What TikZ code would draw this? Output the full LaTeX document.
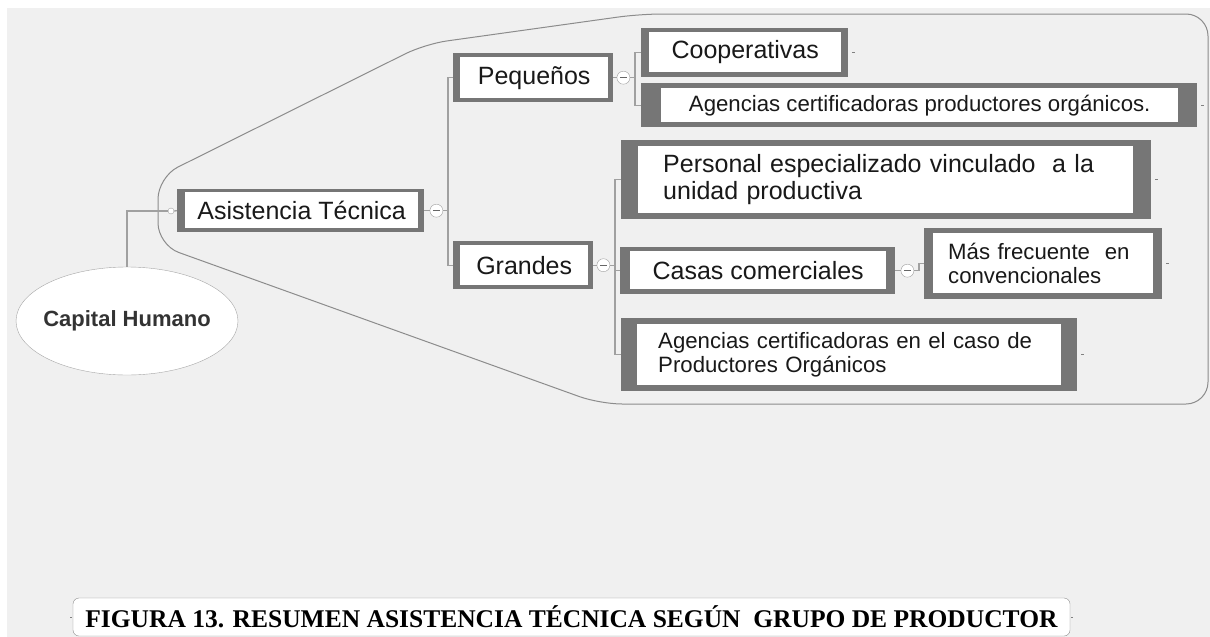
\documentclass[tikz,border=0pt]{standalone}
\usepackage{fontspec}
\setmainfont{Liberation Sans}
\newfontfamily\figfont{Liberation Serif}
\usepackage{tikz}
\usetikzlibrary{calc, shapes.geometric}
\definecolor{framegray}{RGB}{118,118,118}
\definecolor{linkgray}{RGB}{160,160,160}
\definecolor{bordergray}{RGB}{140,140,140}
\definecolor{paper}{RGB}{240,240,240}

\begin{document}
\begin{tikzpicture}[x=1pt, y=-1pt,
    frame/.style={fill=framegray, inner sep=0pt, anchor=north west},
    face/.style={fill=white, inner sep=0pt, anchor=north west, text=black!90},
    bigtext/.style={font=\fontsize{25}{27.5}\selectfont},
    smalltext/.style={font=\fontsize{22.2}{24}\selectfont},
    fold/.style={circle, draw=linkgray, fill=white, minimum size=13pt, inner sep=0pt,
        path picture={\draw[black!60, line width=1pt]
            ([xshift=-3.5pt]path picture bounding box.center) -- ([xshift=3.5pt]path picture bounding box.center);}},
    link/.style={draw=linkgray, line width=1.3pt},
    tick/.style={draw=black!50, line width=0.8pt}
]
\useasboundingbox (0,0) rectangle (1210,637);
\fill[white] (0,0) rectangle (1210,637);
\fill[paper] (7,8) rectangle (1210,637);

% Boundary round the branch
\draw[bordergray, line width=1pt, rounded corners=22]
    (900,14) -- (1208,14) -- (1208,404) -- (600,404) -- (158,245)
    -- (158,177) -- (425,44) -- (640,14) -- cycle;

% Central topic
\node[ellipse, draw=black!35, fill=white, inner sep=0pt, minimum width=222, minimum height=108,
      font=\bfseries\fontsize{22}{24}\selectfont, text=black!80] (cap) at (127,321) {\makebox[0pt]{Capital Humano}};
\node[circle, draw=linkgray, fill=white, minimum size=6pt, inner sep=0pt] (dot) at (171,211) {};

% Asistencia Tecnica
\node[frame, minimum width=247, minimum height=43] (asis) at (177,189) {};
\node[face, bigtext, minimum width=233, minimum height=36] (asis-t) at ($(asis.north west)+(8,3)$) {Asistencia Técnica};

% Pequenos / Grandes
\node[frame, minimum width=160, minimum height=49] (peq) at (453,53) {};
\node[face, bigtext, minimum width=148, minimum height=41] (peq-t) at ($(peq.north west)+(7,4)$) {Pequeños};

\node[frame, minimum width=140, minimum height=48] (gran) at (453,241) {};
\node[face, bigtext, minimum width=128, minimum height=40] (gran-t) at ($(gran.north west)+(7,4)$) {Grandes};

% Leaves of Pequenos
\node[frame, minimum width=207, minimum height=49] (coop) at (641,28) {};
\node[face, bigtext, minimum width=192, minimum height=40] (coop-t) at ($(coop.north west)+(8,4)$) {Cooperativas};

\node[frame, minimum width=556, minimum height=44] (agen1) at (641,83) {};
\node[face, smalltext, minimum width=517, minimum height=34] (agen1-t) at ($(agen1.north west)+(20,5)$) {Agencias certificadoras productores orgánicos.};

% Leaves of Grandes
\node[frame, minimum width=530, minimum height=79] (pers) at (621,140) {};
\node[face, bigtext, minimum height=67, inner xsep=25pt, text width=445, align=left] (pers-t) at ($(pers.north west)+(17,6)$)
    {Personal especializado vinculado\ \ a la\\unidad productiva};

\node[frame, minimum width=275, minimum height=47] (casas) at (620,247) {};
\node[face, bigtext, minimum width=256, minimum height=38] (casas-t) at ($(casas.north west)+(10,4)$) {Casas comerciales};

\node[frame, minimum width=238, minimum height=71] (mas) at (924,228) {};
\node[face, smalltext, minimum height=60, inner xsep=15pt, text width=190, align=left] (mas-t) at ($(mas.north west)+(9,5)$)
    {Más frecuente\ \ en\\convencionales};

\node[frame, minimum width=456, minimum height=73] (agen2) at (621,318) {};
\node[face, smalltext, minimum height=61, inner xsep=21pt, text width=382, align=left] (agen2-t) at ($(agen2.north west)+(16,6)$)
    {Agencias certificadoras en el caso de\\Productores Orgánicos};

% Fold markers
\node[fold] (f1) at ($(asis.east)+(12,0)$) {};
\node[fold] (f2) at ($(peq.east)+(10,0)$) {};
\node[fold] (f3) at ($(gran.east)+(10,0)$) {};
\node[fold] (f4) at ($(casas.east)+(12,0)$) {};

% Connectors
\draw[link] (cap.north) |- (dot.west);
\draw[link] (dot.east) -- (asis.west);
\draw[link] (asis.east) -- (f1.west);
\draw[link] (f1.east) -- ++(5,0) |- (peq.west);
\draw[link] (f1.east) -- ++(5,0) |- (gran.west);
\draw[link] (peq.east) -- (f2.west);
\draw[link] (f2.east) -- ++(5,0) |- (coop.west);
\draw[link] (f2.east) -- ++(5,0) |- (agen1.west);
\draw[link] (gran.east) -- (f3.west);
\draw[link] (f3.east) -- ++(5,0) |- (pers.west);
\draw[link] (f3.east) -- ++(5,0) |- (casas.west);
\draw[link] (f3.east) -- ++(5,0) |- (agen2.west);
\draw[link] (casas.east) -- (f4.west);
\draw[link] (f4.east) -- ++(5,0) |- (mas.west);

% Small end marks
\foreach \leaf in {coop, agen1, pers, mas, agen2}
    \draw[tick] ([xshift=4pt]\leaf.east) -- ++(3,0);

% Caption
\node[draw=bordergray, fill=white, rounded corners=6, minimum width=997, minimum height=38,
      font=\figfont\bfseries\fontsize{25.5}{28}\selectfont] (title) at (571.5,617)
    {FIGURA 13. RESUMEN ASISTENCIA TÉCNICA SEGÚN\ \ GRUPO DE PRODUCTOR};
\draw[tick] ([xshift=-1pt]title.west) -- ++(-2,0);
\draw[tick] ([xshift=1pt]title.east) -- ++(2,0);
\end{tikzpicture}
\end{document}
